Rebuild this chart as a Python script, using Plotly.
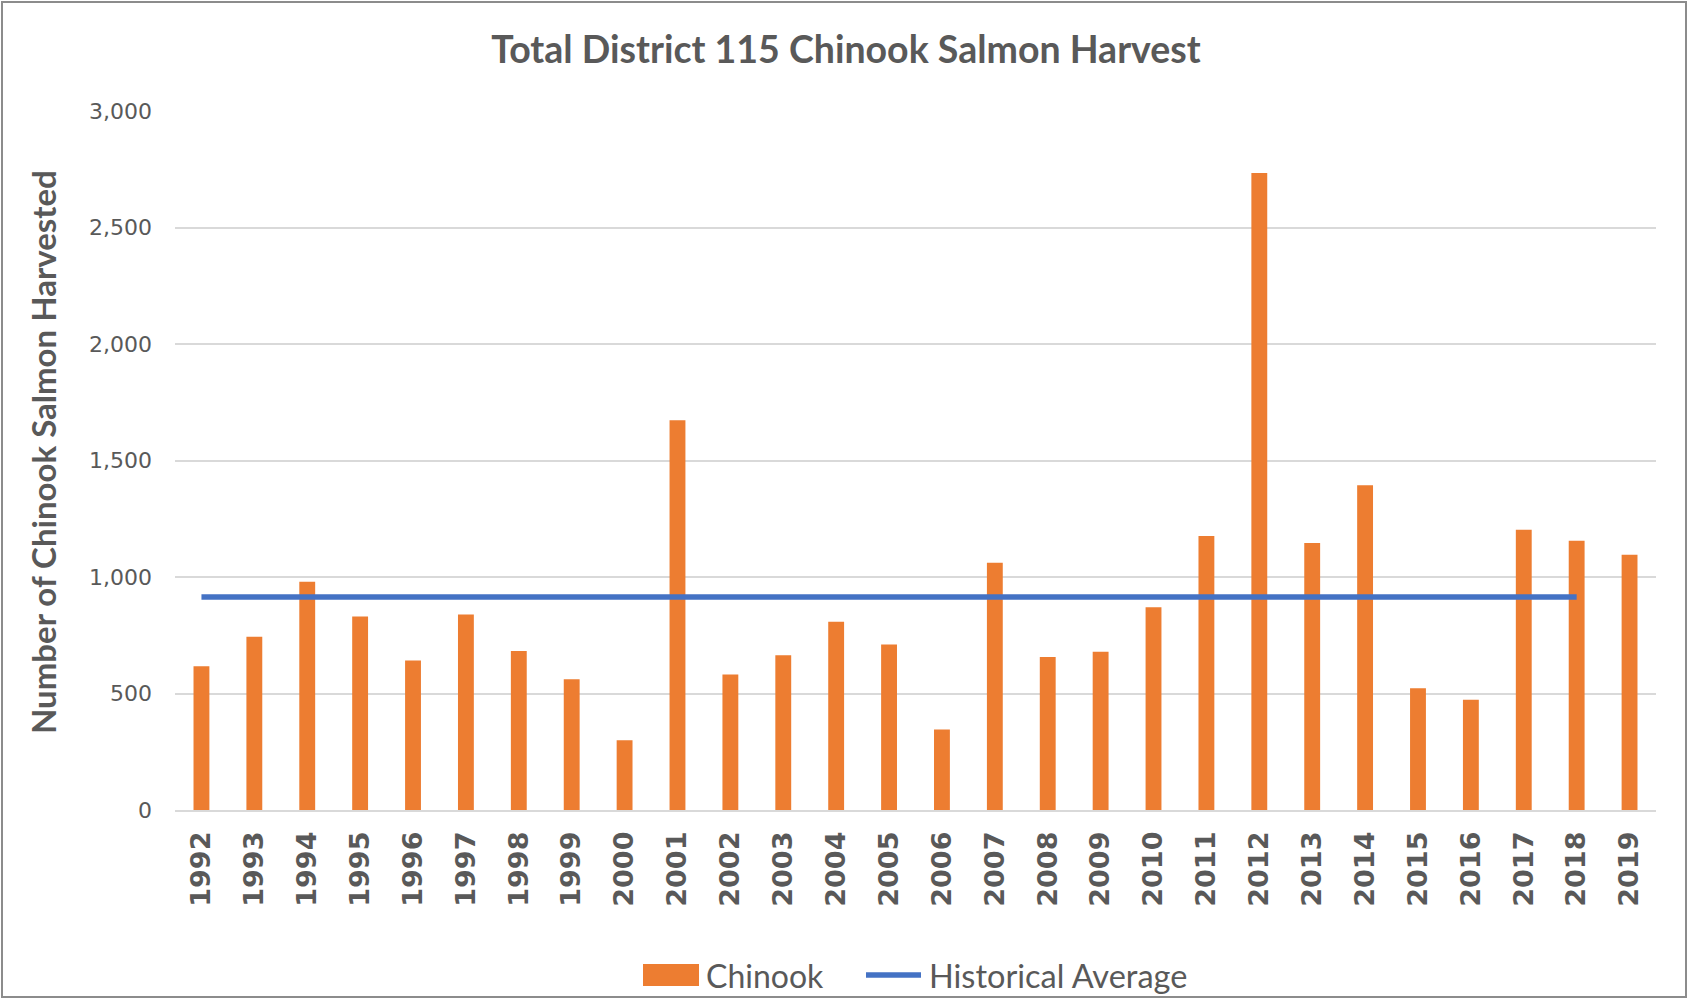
import plotly.graph_objects as go

years = [str(y) for y in range(1992, 2020)]
chinook = [617, 744, 980, 831, 642, 839, 682, 561, 299, 1673,
           582, 664, 808, 710, 345, 1061, 657, 679, 870, 1176,
           2734, 1146, 1394, 522, 473, 1203, 1156, 1095]
# historical average drawn through 2018 only
hist_avg = [914] * 27 + [None]

y_ticks = [0, 500, 1000, 1500, 2000, 2500, 3000]

W, H = 1689, 999
L, R, T, B = 175, 1656, 111, 810


def px(x):
    return (x - L) / (R - L)


def py(y):
    return (B - y) / (B - T)


GRAY = "#595959"
ORANGE = "#ED7D31"
BLUE = "#4472C4"
SANS = "Lato, sans-serif"

fig = go.Figure()
fig.add_trace(go.Bar(x=years, y=chinook, name="Chinook",
                     marker=dict(color=ORANGE, line=dict(width=0)),
                     showlegend=False))
fig.add_trace(go.Scatter(x=years, y=hist_avg, name="Historical Average",
                         mode="lines", line=dict(color=BLUE, width=5.5),
                         showlegend=False))

shapes = [
    # chart border
    dict(type="rect", xref="paper", yref="paper",
         x0=px(2), x1=px(W - 3), y0=py(H - 2), y1=py(2),
         line=dict(color="#8c8c8c", width=2), layer="below"),
    # legend swatches
    dict(type="rect", xref="paper", yref="paper",
         x0=px(643), x1=px(699), y0=py(986), y1=py(964),
         fillcolor=ORANGE, line=dict(width=0)),
    dict(type="line", xref="paper", yref="paper",
         x0=px(866), x1=px(921), y0=py(975), y1=py(975),
         line=dict(color=BLUE, width=5.5)),
]

annotations = [
    dict(text="<b>Number of Chinook Salmon Harvested</b>", textangle=-90,
         xref="paper", yref="paper", x=px(43), y=py(452),
         showarrow=False, xanchor="center", yanchor="middle",
         font=dict(family=SANS, size=33, color=GRAY)),
    dict(text="Chinook", xref="paper", yref="paper", x=px(704), y=py(975),
         showarrow=False, xanchor="left", yanchor="middle",
         font=dict(family=SANS, size=32, color=GRAY)),
    dict(text="Historical Average", xref="paper", yref="paper", x=px(927), y=py(975),
         showarrow=False, xanchor="left", yanchor="middle",
         font=dict(family=SANS, size=32.5, color=GRAY)),
]

fig.update_layout(
    width=W, height=H,
    margin=dict(l=L, r=W - R, t=T, b=H - B),
    paper_bgcolor="white", plot_bgcolor="white",
    title=dict(text="<b>Total District 115 Chinook Salmon Harvest</b>",
               x=846 / W, xanchor="center", y=1 - 50 / H, yanchor="middle",
               font=dict(family=SANS, size=37.5, color=GRAY)),
    bargap=0.7,
    shapes=shapes,
    annotations=annotations,
    showlegend=False,
)
fig.update_xaxes(
    type="category", tickangle=-90, ticks="", ticklabelstandoff=9,
    tickfont=dict(family="DejaVu Sans", size=27, color=GRAY, weight="bold"),
    showline=True, linecolor="#d9d9d9", linewidth=1.5, showgrid=False,
)
fig.update_yaxes(
    range=[0, 3000], tickvals=y_ticks, tickformat=",", ticks="",
    ticklabelstandoff=22,
    tickfont=dict(family="DejaVu Sans", size=22, color=GRAY),
    showgrid=True, gridcolor="#d9d9d9", gridwidth=1.5,
    zeroline=False, showline=False,
)

fig.write_html("out.html", config={"displayModeBar": False},
               post_script="document.body.style.margin='0';")
